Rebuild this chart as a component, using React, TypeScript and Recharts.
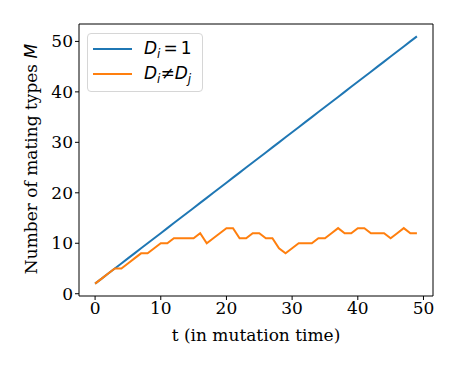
import React from 'react';
import { LineChart, Line, XAxis, YAxis, ReferenceLine } from 'recharts';

const tValues = [0,1,2,3,4,5,6,7,8,9,10,11,12,13,14,15,16,17,18,19,20,21,22,23,24,25,26,27,28,29,30,31,32,33,34,35,36,37,38,39,40,41,42,43,44,45,46,47,48,49];
const blueValues = [2,3,4,5,6,7,8,9,10,11,12,13,14,15,16,17,18,19,20,21,22,23,24,25,26,27,28,29,30,31,32,33,34,35,36,37,38,39,40,41,42,43,44,45,46,47,48,49,50,51];
const orangeValues = [2,3,4,5,5,6,7,8,8,9,10,10,11,11,11,11,12,10,11,12,13,13,11,11,12,12,11,11,9,8,9,10,10,10,11,11,12,13,12,12,13,13,12,12,12,11,12,13,12,12];
const xTicks = [0,10,20,30,40,50];
const yTicks = [0,10,20,30,40,50];
const xDomain = [-2.45, 51.45];
const yDomain = [-0.45, 53.45];

const data = tValues.map((t, i) => ({ t, a: blueValues[i], b: orangeValues[i] }));

const SERIF = "'DejaVu Serif', serif";
const SANS = "'DejaVu Sans', sans-serif";
const BLUE = '#1f77b4';
const ORANGE = '#ff7f0e';

const YLabel = (props: any) => {
  const { viewBox } = props;
  const cx = 31;
  const cy = viewBox.y + viewBox.height / 2 - 1;
  return (
    <text x={cx} y={cy} transform={`rotate(-90, ${cx}, ${cy})`} textAnchor="middle" dominantBaseline="central" fontFamily={SERIF} fontSize={17} fill="#000">
      <tspan>Number of mating types </tspan>
      <tspan fontFamily={SANS} fontStyle="italic">M</tspan>
    </text>
  );
};

const XLabel = (props: any) => {
  const { viewBox } = props;
  const cx = viewBox.x + viewBox.width / 2;
  const cy = viewBox.y + 39;
  return (
    <text x={cx} y={cy} textAnchor="middle" dominantBaseline="central" fontFamily={SERIF} fontSize={17} fill="#000">
      t (in mutation time)
    </text>
  );
};

const subStyle = { fontSize: 12, verticalAlign: -4 } as React.CSSProperties;

const LegendBox = () => (
  <div style={{ position: 'absolute', left: 87, top: 33, width: 116, height: 59, border: '1px solid #d6d6d6', borderRadius: 4, background: 'rgba(255,255,255,0.8)', fontFamily: SANS, fontSize: 17, color: '#000', boxSizing: 'border-box' }}>
    <div style={{ position: 'absolute', left: 5, top: 14, width: 39, height: 2, background: BLUE }} />
    <div style={{ position: 'absolute', left: 56, top: 3, whiteSpace: 'nowrap', lineHeight: '22px' }}>
      <i>D</i><i style={subStyle}>i</i><span style={{ margin: '0 3px' }}>=</span>1
    </div>
    <div style={{ position: 'absolute', left: 5, top: 39, width: 39, height: 2, background: ORANGE }} />
    <div style={{ position: 'absolute', left: 56, top: 28, whiteSpace: 'nowrap', lineHeight: '22px' }}>
      <i>D</i><i style={subStyle}>i</i>≠<i>D</i><i style={subStyle}>j</i>
    </div>
  </div>
);

export default function App() {
  const tickStyle = { fontFamily: SERIF, fontSize: 17, fill: '#000' };
  return (
    <div style={{ position: 'absolute', left: 0, top: 0, width: 457, height: 366, background: '#fff' }}>
      <LineChart width={457} height={366} data={data} margin={{ top: 24, right: 24, left: 19, bottom: 24 }}>
        <XAxis dataKey="t" type="number" domain={xDomain} ticks={xTicks} allowDataOverflow
          tick={tickStyle} tickLine={{ stroke: '#000' }} tickSize={4} axisLine={{ stroke: '#000' }} height={46}
          label={<XLabel />} />
        <YAxis type="number" domain={yDomain} ticks={yTicks} allowDataOverflow
          tick={tickStyle} tickLine={{ stroke: '#000' }} tickSize={4} axisLine={{ stroke: '#000' }} width={60}
          label={<YLabel />} />
        <ReferenceLine x={xDomain[1]} stroke="#000" ifOverflow="visible" />
        <ReferenceLine y={yDomain[1]} stroke="#000" ifOverflow="visible" />
        <Line dataKey="a" stroke={BLUE} strokeWidth={2} dot={false} isAnimationActive={false} />
        <Line dataKey="b" stroke={ORANGE} strokeWidth={2} dot={false} isAnimationActive={false} />
      </LineChart>
      <LegendBox />
    </div>
  );
}
